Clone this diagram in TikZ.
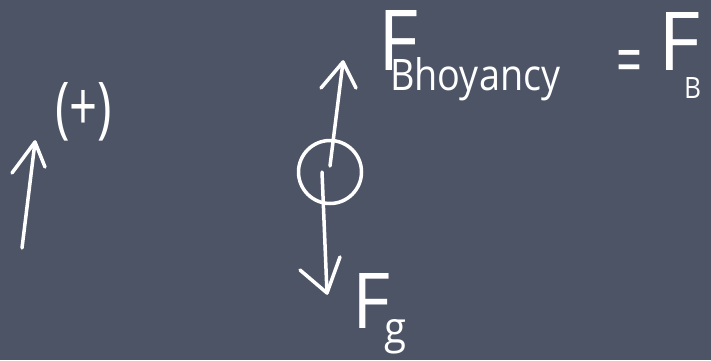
\documentclass[tikz,border=0pt]{standalone}
\usepackage{fontspec}
\setmainfont{Open Sans}
\definecolor{board}{RGB}{77,84,102}
\begin{document}
\begin{tikzpicture}[x=1pt,y=-1pt,
  chalk/.style={draw=white,line width=3.5pt,line cap=round,line join=round},
  txt/.style={text=white,inner sep=0pt,anchor=base west}]
\fill[board] (0,0) rectangle (711,360);
\useasboundingbox (0,0) rectangle (711,360);
% left arrow (positive direction)
\coordinate (lbot) at (22,248);
\coordinate (ltip) at (35,142);
\coordinate (ll) at (12,173);
\coordinate (lr) at (45,167);
\draw[chalk] (lbot) -- (ltip);
\draw[chalk] (ll) -- (ltip) -- (lr);
\node[txt] (plus) at (55,130) {\resizebox{57pt}{48pt}{(+)}};
% ball
\node[circle,draw=white,line width=3.5pt,minimum width=63pt,inner sep=0pt] (ball) at (330,172) {};
% buoyancy arrow
\coordinate (ubot) at (330,166);
\coordinate (utip) at (343,62);
\coordinate (ul) at (321,88);
\coordinate (ur) at (356,88);
\draw[chalk] (ubot) -- (utip);
\draw[chalk] (ul) -- (utip) -- (ur);
% gravity arrow
\coordinate (dtop) at (322,172);
\coordinate (dtip) at (327,293);
\coordinate (dl) at (300,270);
\coordinate (dr) at (340,257);
\draw[chalk] (dtop) -- (dtip);
\draw[chalk] (dl) -- (dtip) -- (dr);
% labels
\node[txt] (fb) at (378,70) {\resizebox{40pt}{60pt}{F}\hspace{-28pt}\raisebox{-20pt}{\resizebox{170pt}{33pt}{Bhoyancy}}};
\node[txt] (eq) at (616,85) {\resizebox{26pt}{35pt}{=}};
\node[txt] (fb2) at (658,70) {\resizebox{42pt}{58pt}{F}\hspace{-16pt}\raisebox{-28pt}{\resizebox{17pt}{21pt}{B}}};
\node[txt] (fg) at (352,328) {\resizebox{38pt}{55pt}{F}\hspace{-6pt}\raisebox{-15pt}{\resizebox{22pt}{24pt}{g}}};
\end{tikzpicture}
\end{document}
